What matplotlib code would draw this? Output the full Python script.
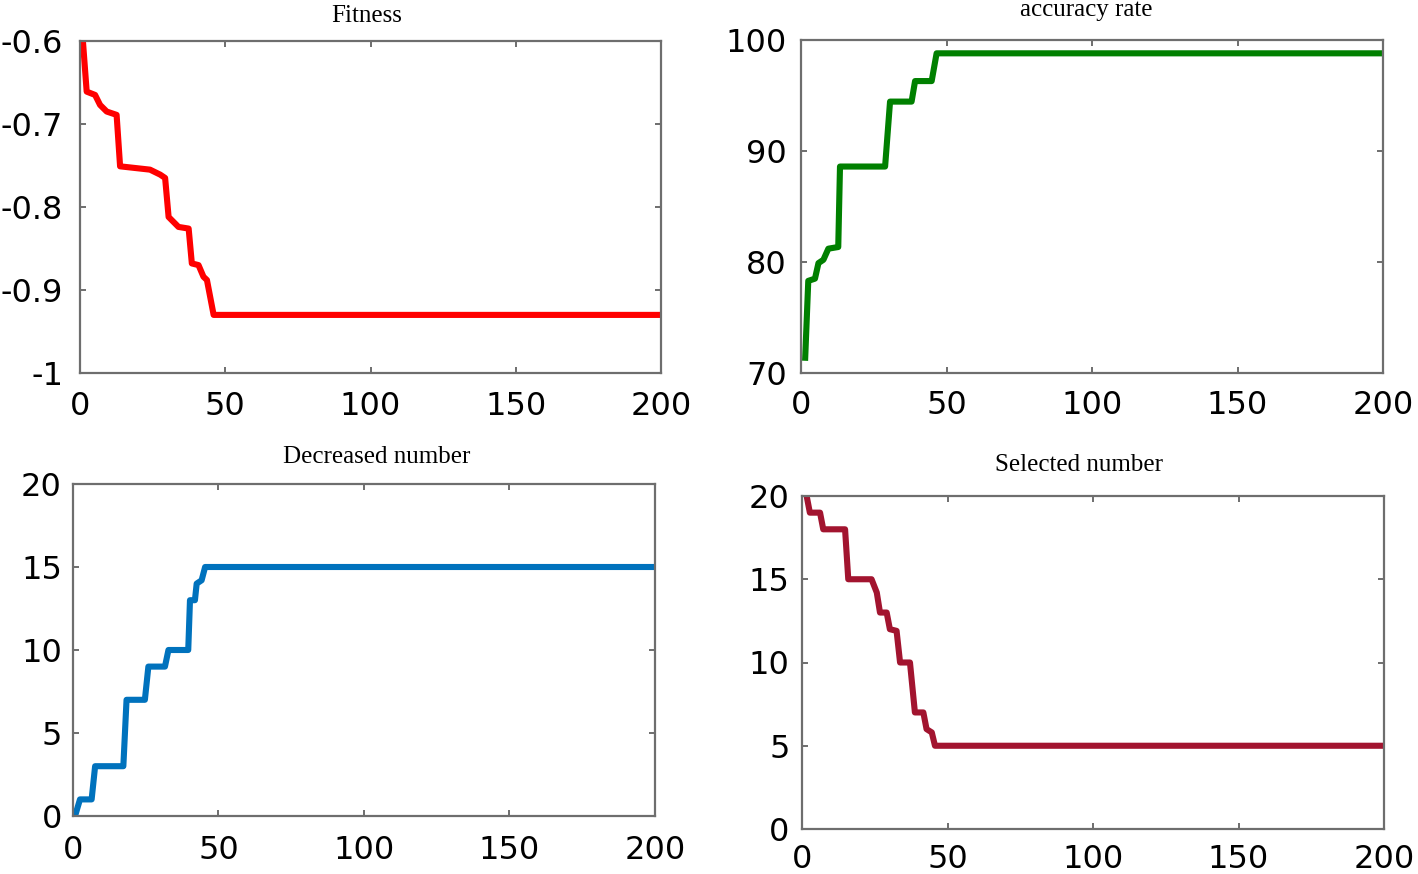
import matplotlib
matplotlib.use("Agg")
import matplotlib.pyplot as plt

plt.rcParams['axes.unicode_minus'] = False

# ---------------- data (iteration, value) vertices ----------------
fit_x = [1, 2.3, 5.2, 6.9, 9.2, 12.6, 13.8, 24.1, 27.6, 29.3, 30.5, 33.9, 37.4, 38.5, 40.8, 42.5, 43.7, 46, 200]
fit_y = [-0.600, -0.661, -0.665, -0.677, -0.685, -0.689, -0.751, -0.755, -0.761, -0.765,
         -0.812, -0.824, -0.826, -0.868, -0.870, -0.884, -0.888, -0.930, -0.930]

acc_x = [1.4, 2.5, 4.8, 6.0, 7.7, 9.4, 12.8, 13.4, 28.9, 30.6, 38.0, 39.2, 44.9, 46.6, 200]
acc_y = [71.1, 78.3, 78.5, 79.9, 80.2, 81.2, 81.35, 88.6, 88.6, 94.45, 94.45, 96.3, 96.3, 98.8, 98.8]

dec_x = [0.7, 2.4, 6.4, 7.6, 17.3, 18.4, 24.7, 25.9, 31.6, 32.8, 39.6, 40.2, 41.9, 42.5, 44.2, 45.4, 200]
dec_y = [0, 1, 1, 3, 3, 7, 7, 9, 9, 10, 10, 13, 13, 14, 14.2, 15, 15]

sel_x = [1.6, 2.7, 6.2, 7.3, 14.8, 15.9, 23.9, 25.7, 26.8, 29.1, 30.2, 32.5, 33.7, 37.1, 38.8, 41.7, 42.8, 44.6, 45.7, 200]
sel_y = [20, 19, 19, 18, 18, 15, 15, 14.2, 13, 13, 12, 11.9, 10, 10, 7, 7, 6, 5.8, 5, 5]

titles = ["Fitness", "accuracy rate", "Decreased number", "Selected number"]
x_ticks = [0, 50, 100, 150, 200]
fit_ticks = [-1, -0.9, -0.8, -0.7, -0.6]
fit_ticklabels = ["-1", "-0.9", "-0.8", "-0.7", "-0.6"]
acc_ticks = [70, 80, 90, 100]
num_ticks = [0, 5, 10, 15, 20]

# ---------------- figure ----------------
W, H = 1418, 874
fig = plt.figure(figsize=(W / 100, H / 100), dpi=100)


def add_ax(l, t, r, b):
    return fig.add_axes([l / W, 1 - b / H, (r - l) / W, (b - t) / H])


ax1 = add_ax(80, 41, 661, 373)
ax2 = add_ax(801, 40, 1383, 373)
ax3 = add_ax(73, 484, 655, 816)
ax4 = add_ax(802, 496, 1384, 829)

frame_c = "#6e6e6e"
tick_font = dict(family="DejaVu Sans", size=23)


def style(ax, ypad, xpad):
    for s in ax.spines.values():
        s.set_color(frame_c)
        s.set_linewidth(1.6)
    ax.tick_params(direction="in", top=True, right=True, length=4, width=1.4,
                   color=frame_c, labelcolor="black")
    ax.tick_params(axis="y", pad=ypad)
    ax.tick_params(axis="x", pad=xpad)
    for lab in ax.get_xticklabels() + ax.get_yticklabels():
        lab.set_fontfamily(tick_font["family"])
        lab.set_fontsize(tick_font["size"])


lw = 4.4
ax1.plot(fit_x, fit_y, color="#ff0000", lw=lw, solid_joinstyle="round", solid_capstyle="butt")
ax1.set_xlim(0, 200)
ax1.set_ylim(-1, -0.6)
ax1.set_xticks(x_ticks)
ax1.set_yticks(fit_ticks)
ax1.set_yticklabels(fit_ticklabels)
style(ax1, 12, 13)

ax2.plot(acc_x, acc_y, color="#008000", lw=lw, solid_joinstyle="round", solid_capstyle="butt")
ax2.set_xlim(0, 200)
ax2.set_ylim(70, 100)
ax2.set_xticks(x_ticks)
ax2.set_yticks(acc_ticks)
style(ax2, 10, 12)

ax3.plot(dec_x, dec_y, color="#0072bd", lw=lw, solid_joinstyle="round", solid_capstyle="butt")
ax3.set_xlim(0, 200)
ax3.set_ylim(0, 20)
ax3.set_xticks(x_ticks)
ax3.set_yticks(num_ticks)
style(ax3, 8, 13.5)

ax4.plot(sel_x, sel_y, color="#a2142f", lw=lw, solid_joinstyle="round", solid_capstyle="butt")
ax4.set_xlim(0, 200)
ax4.set_ylim(0, 20)
ax4.set_xticks(x_ticks)
ax4.set_yticks(num_ticks)
style(ax4, 9, 11)

title_font = dict(family="Liberation Serif", size=18, color="black", ha="center", va="baseline")
fig.text(367 / W, 1 - 22.5 / H, titles[0], **title_font)
fig.text(1086 / W, 1 - 16 / H, titles[1], **title_font)
fig.text(377 / W, 1 - 463 / H, titles[2], **title_font)
fig.text(1079 / W, 1 - 471 / H, titles[3], **title_font)

fig.savefig("out.png", dpi=100, facecolor="white")
